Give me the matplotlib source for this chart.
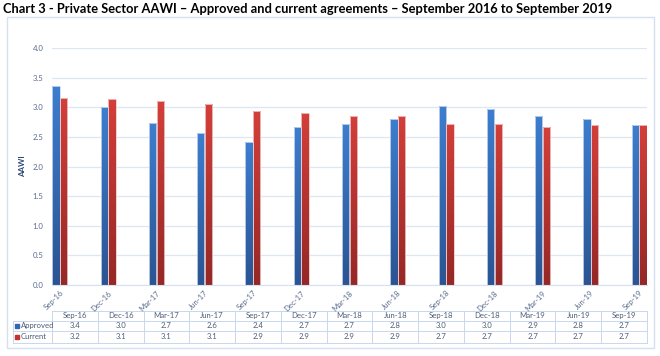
import numpy as np
import matplotlib
matplotlib.use("Agg")
import matplotlib.pyplot as plt
from matplotlib.patches import Rectangle
from matplotlib.colors import LinearSegmentedColormap

categories = ["Sep-16", "Dec-16", "Mar-17", "Jun-17", "Sep-17", "Dec-17", "Mar-18",
              "Jun-18", "Sep-18", "Dec-18", "Mar-19", "Jun-19", "Sep-19"]
approved = [3.36, 3.00, 2.73, 2.57, 2.41, 2.66, 2.72, 2.80, 3.02, 2.97, 2.86, 2.80, 2.70]
current = [3.16, 3.14, 3.10, 3.06, 2.93, 2.90, 2.86, 2.86, 2.72, 2.72, 2.66, 2.70, 2.70]
series_names = ["Approved", "Current"]
yticks = [0.0, 0.5, 1.0, 1.5, 2.0, 2.5, 3.0, 3.5, 4.0]
title = "Chart 3 - Private Sector AAWI \u2013 Approved and current agreements \u2013 September 2016 to September 2019"

plt.rcParams['font.family'] = ['Lato', 'DejaVu Sans']

W, H = 660, 356
fig = plt.figure(figsize=(W / 100, H / 100), dpi=100)

# overlay axes in pixel coords for frame, title, table
ov = fig.add_axes([0, 0, 1, 1])
ov.set_xlim(0, W)
ov.set_ylim(H, 0)
ov.axis("off")

ov.add_patch(Rectangle((7, 17), 647, 331, fill=False, ec="#d5e1f1", lw=1.0))
ov.text(3, 9, title, fontsize=9.3, fontweight="bold", color="black", va="center", ha="left")

# main axes
L, R, T, B = 52, 647, 48, 285
ax = fig.add_axes([L / W, 1 - B / H, (R - L) / W, (B - T) / H])
ax.set_zorder(2)
ax.patch.set_alpha(0)

x = np.arange(len(categories))
bw = 0.16
ax.set_xlim(-bw - 0.005, len(categories) - 1 + bw + 0.005)
ax.set_ylim(0, 4.0)

blue_cm = LinearSegmentedColormap.from_list("b", ["#2b5492", "#3d7ecf"])
red_cm = LinearSegmentedColormap.from_list("r", ["#952826", "#d43f3a"])
grad = np.linspace(0, 1, 256).reshape(-1, 1)

def draw_bars(xs, vals, cm, edge):
    bars = ax.bar(xs, vals, width=bw * 0.94, color="none", edgecolor=edge, lw=0.6, zorder=3)
    for b in bars:
        x0 = b.get_x(); w = b.get_width(); h = b.get_height()
        im = ax.imshow(grad, extent=(x0, x0 + w, 0, h), origin="lower", cmap=cm,
                       aspect="auto", zorder=2.5, interpolation="bilinear")
        im.set_clip_path(b)
    return bars

draw_bars(x - bw / 2, approved, blue_cm, "#c9d8ee")
draw_bars(x + bw / 2, current, red_cm, "#efc9c8")

ax.set_yticks(yticks)
ax.set_yticklabels([f"{t:.1f}" for t in yticks])
ax.yaxis.grid(True, color="#dde7f3", lw=0.9)
ax.set_axisbelow(True)
for s in ["top", "right", "left"]:
    ax.spines[s].set_visible(False)
ax.spines["bottom"].set_color("#d5e1f1")
ax.tick_params(axis="y", length=0, labelsize=5.6, labelcolor="#5a6b8c", pad=6)
ax.set_xticks(x)
ax.set_xticklabels(categories, rotation=45, ha="right", rotation_mode="anchor",
                   fontsize=5.6, color="#5a6b8c")
ax.tick_params(axis="x", length=0, pad=3)
ax.set_ylabel("AAWI", fontsize=5.8, fontweight="bold", color="#2f4a7a", labelpad=5)

# data table
tx0, tx1 = 52, 647
ty = [311, 320.5, 331, 342.5]
colw = (tx1 - tx0) / len(categories)
lc = "#c8d7ec"
tcol = "#4d5d78"
ov.plot([tx0, tx1], [ty[0], ty[0]], color=lc, lw=0.7)
for yy in ty[1:]:
    ov.plot([13, tx1], [yy, yy], color=lc, lw=0.7)
ov.plot([13, 13], [ty[1], ty[3]], color=lc, lw=0.7)
for i in range(len(categories) + 1):
    xx = tx0 + i * colw
    ov.plot([xx, xx], [ty[0], ty[3]], color=lc, lw=0.7)
fs = 5.6
for i, c in enumerate(categories):
    cx = tx0 + (i + 0.5) * colw
    ov.text(cx, (ty[0] + ty[1]) / 2, c, fontsize=fs, color=tcol, ha="center", va="center")
    ov.text(cx, (ty[1] + ty[2]) / 2, f"{approved[i]:.1f}", fontsize=fs, color=tcol, ha="center", va="center")
    ov.text(cx, (ty[2] + ty[3]) / 2, f"{current[i]:.1f}", fontsize=fs, color=tcol, ha="center", va="center")
for r, (name, colr) in enumerate(zip(series_names, ["#3467b3", "#c2332f"])):
    yc = (ty[1 + r] + ty[2 + r]) / 2
    ov.add_patch(Rectangle((15, yc - 2), 4, 4, color=colr))
    ov.text(21, yc, name, fontsize=fs, color=tcol, ha="left", va="center")

fig.savefig("out.png", dpi=100)
